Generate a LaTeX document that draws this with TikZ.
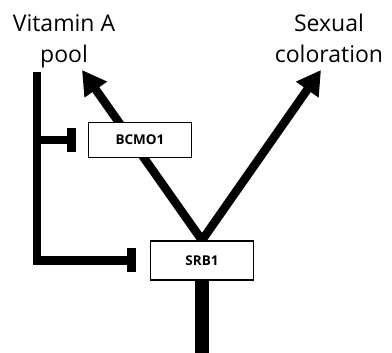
\documentclass[tikz,border=0pt]{standalone}
\usepackage{fontspec}
\setmainfont{Open Sans}
\usetikzlibrary{arrows.meta,backgrounds}
\begin{document}
\begin{tikzpicture}[x=1pt,y=-1pt,
  heading/.style={align=center, inner sep=0pt, font=\fontsize{23}{31}\selectfont},
  gene/.style={draw, line width=1.5pt, fill=white, minimum width=103pt, minimum height=35pt, inner sep=0pt, font=\fontsize{13.5}{15}\selectfont\bfseries},
  flux/.style={line width=8.5pt, -{Triangle[length=24pt,width=26pt]}},
  block/.style={line width=8.5pt, line join=miter, -{Rectangle[length=9pt,width=24pt]}}]
  \useasboundingbox (0,0) rectangle (392,353);
  % labels
  \node[heading, anchor=base] (vita) at (64,63) {Vitamin A\\pool};
  \node[heading, anchor=base] (color) at (329,63) {Sexual\\coloration};
  % genes
  \node[gene] (bcmo) at (140,140) {BCMO1};
  \node[gene, minimum height=39pt] (srb) at (202,260.5) {SRB1};
  \coordinate (vtip) at (82,70);
  \coordinate (ctip) at (321,70);
  \coordinate (pool) at (37,72);
  \coordinate (foot) at (202,353);
  \begin{scope}[on background layer]
    \draw[flux] (srb.north) -- (vtip);
    \draw[flux] (srb.north) -- (ctip);
  \end{scope}
  % inhibition
  \draw[block, shorten >=14pt] (pool) |- (srb.west);
  \draw[block, shorten >=12pt] (pool |- bcmo.west) -- (bcmo.west);
  \draw[line width=14pt] (srb.south) -- (foot);
\end{tikzpicture}
\end{document}
